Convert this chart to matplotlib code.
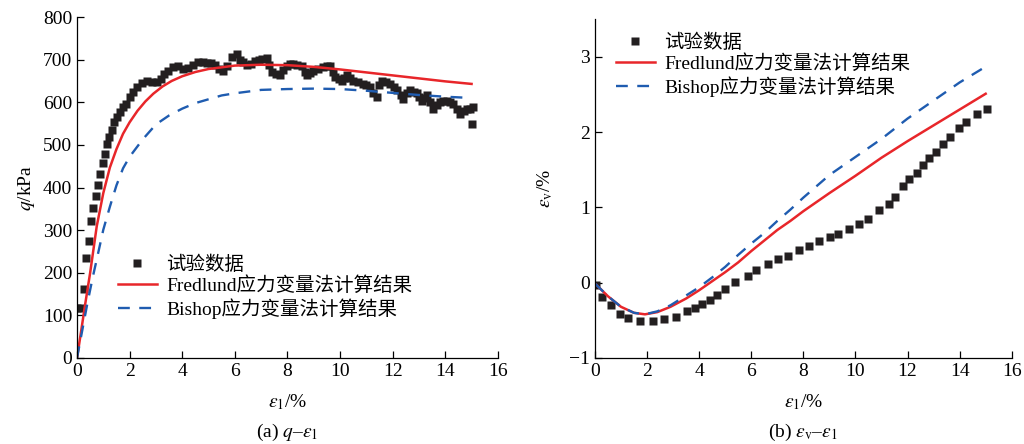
import matplotlib
matplotlib.use('Agg')
import matplotlib.pyplot as plt

plt.rcParams['font.family'] = ['Liberation Serif', 'Noto Sans CJK SC']
plt.rcParams['mathtext.fontset'] = 'stix'
plt.rcParams['font.size'] = 14

# (a) deviator stress q vs axial strain
test_a_strain = [0.01, 0.12, 0.27, 0.35, 0.44, 0.53, 0.62, 0.71, 0.80, 0.89, 0.98, 1.06,
                 1.15, 1.23, 1.32, 1.42, 1.52, 1.63, 1.74, 1.86, 2.01, 2.14, 2.27, 2.46,
                 2.65, 2.84, 3.03, 3.18, 3.31, 3.47, 3.66, 3.85, 4.04, 4.23, 4.42, 4.61,
                 4.80, 4.95, 5.10, 5.25, 5.40, 5.56, 5.69, 5.88, 6.07, 6.20, 6.30, 6.45,
                 6.60, 6.75, 6.90, 7.05, 7.21, 7.30, 7.40, 7.55, 7.72, 7.85, 7.97, 8.10,
                 8.22, 8.38, 8.54, 8.65, 8.73, 8.85, 8.98, 9.15, 9.36, 9.50, 9.62, 9.72,
                 9.81, 9.95, 10.06, 10.15, 10.25, 10.38, 10.50, 10.70, 10.88, 11.00, 11.14,
                 11.25, 11.39, 11.48, 11.58, 11.75, 11.90, 12.05, 12.15, 12.30, 12.40,
                 12.55, 12.66, 12.80, 12.91, 13.00, 13.10, 13.20, 13.29, 13.42, 13.54,
                 13.68, 13.80, 13.93, 14.05, 14.18, 14.30, 14.43, 14.56, 14.70, 14.81,
                 14.95, 15.06, 15.00]
test_a_q = [118, 118, 163, 235, 275, 322, 351, 379, 407, 431, 458, 479,
            502, 519, 534, 554, 565, 577, 589, 597, 612, 624, 635, 645,
            649, 647, 647, 655, 667, 674, 682, 684, 678, 681, 688, 694,
            695, 693, 692, 688, 678, 674, 686, 705, 713, 700, 694, 688,
            690, 697, 700, 702, 704, 688, 670, 666, 663, 675, 686, 690,
            690, 688, 686, 672, 663, 668, 674, 678, 682, 684, 686, 672,
            660, 655, 651, 657, 663, 657, 651, 647, 643, 640, 635,
            622, 612, 640, 651, 647, 643, 636, 629, 618, 608,
            622, 628, 625, 621, 612, 604, 610, 616, 600, 585,
            594, 600, 603, 604, 600, 595, 584, 573, 580, 585,
            585, 588, 548]

fred_a_strain = [0, 0.15, 0.3, 0.5, 0.75, 1.0, 1.25, 1.5, 1.75, 2.0, 2.3, 2.6, 2.9, 3.25,
                 3.6, 4.0, 4.5, 5.0, 5.5, 6.0, 7.0, 8.0, 9.0, 10.0, 11.0, 12.0, 13.0,
                 14.0, 15.0]
fred_a_q = [0, 60, 122, 200, 309, 387, 447, 490, 526, 553, 580, 602, 620, 637,
            650, 661, 671, 678, 682, 686, 688, 687, 683, 677, 670, 663, 656,
            649, 643]

bishop_a_strain = [0, 0.2, 0.4, 0.6, 0.8, 1.0, 1.25, 1.5, 1.75, 2.0, 2.5, 3.0, 3.5, 4.0,
                   4.5, 5.0, 5.5, 6.0, 7.0, 8.0, 9.0, 10.0, 11.0, 12.0, 13.0, 14.0, 15.0]
bishop_a_q = [0, 65, 130, 190, 245, 301, 355, 405, 445, 472, 513, 548, 569, 585,
              598, 607, 616, 621, 629, 631, 632, 631, 627, 622, 617, 613, 610]

# (b) volumetric strain vs axial strain
test_b_strain = [0.04, 0.29, 0.61, 0.95, 1.28, 1.73, 2.23, 2.67, 3.11, 3.54, 3.83, 4.12,
                 4.40, 4.68, 4.99, 5.37, 5.86, 6.20, 6.66, 7.03, 7.42, 7.84, 8.20, 8.60,
                 9.01, 9.33, 9.74, 10.12, 10.50, 10.90, 11.29, 11.52, 11.81, 12.05, 12.36,
                 12.61, 12.83, 13.11, 13.38, 13.65, 13.96, 14.26, 14.65, 15.07]
test_b_ev = [-0.03, -0.19, -0.30, -0.41, -0.47, -0.51, -0.51, -0.48, -0.45, -0.37, -0.33,
             -0.28, -0.23, -0.16, -0.09, 0.01, 0.09, 0.17, 0.25, 0.31, 0.36, 0.43, 0.49,
             0.56, 0.61, 0.65, 0.71, 0.78, 0.85, 0.97, 1.04, 1.14, 1.28, 1.38, 1.46,
             1.56, 1.65, 1.74, 1.84, 1.94, 2.05, 2.14, 2.24, 2.31]

fred_b_strain = [0, 0.5, 1.0, 1.5, 1.92, 2.4, 2.9, 3.5, 4.0, 4.5, 5.0, 5.5, 6.0, 6.5,
                 7.0, 7.5, 8.0, 8.5, 9.0, 10.0, 11.0, 12.0, 13.0, 14.0, 15.0]
fred_b_ev = [-0.01, -0.18, -0.32, -0.40, -0.42, -0.39, -0.32, -0.21, -0.10, 0.02, 0.14,
             0.27, 0.42, 0.56, 0.70, 0.82, 0.95, 1.07, 1.19, 1.42, 1.66, 1.88, 2.09,
             2.30, 2.51]

bishop_b_strain = [0, 0.5, 1.0, 1.5, 1.92, 2.4, 2.9, 3.5, 4.0, 4.5, 5.0, 5.5, 6.0, 6.5,
                   7.0, 7.5, 8.0, 9.0, 10.0, 11.0, 12.0, 13.0, 14.0, 15.0]
bishop_b_ev = [-0.01, -0.18, -0.32, -0.40, -0.42, -0.38, -0.30, -0.17, -0.06, 0.07, 0.21,
               0.37, 0.52, 0.66, 0.82, 0.97, 1.13, 1.43, 1.67, 1.91, 2.18, 2.42, 2.66,
               2.87]

labels = ['试验数据', 'Fredlund应力变量法计算结果', 'Bishop应力变量法计算结果']
pt_color = '#231f20'
red = '#e8262a'
blue = '#1f5cb0'


def style_axes(ax):
    for side in ['top', 'right']:
        ax.spines[side].set_visible(False)
    for side in ['left', 'bottom']:
        ax.spines[side].set_linewidth(0.9)
    ax.tick_params(direction='in', length=5, width=0.9, labelsize=14)


def draw(ax, ts, tv, fs, fv, bs, bv):
    ax.plot(ts, tv, 's', color=pt_color, ms=6, mec='none', label=labels[0])
    ax.plot(fs, fv, '-', color=red, lw=1.8, label=labels[1])
    ax.plot(bs, bv, '--', color=blue, lw=1.7, dashes=(5, 4), label=labels[2])


fig = plt.figure(figsize=(10.24, 4.44), dpi=100)

ax1 = fig.add_axes([0.0752, 0.1937, 0.411, 0.768])
draw(ax1, test_a_strain, test_a_q, fred_a_strain, fred_a_q, bishop_a_strain, bishop_a_q)
style_axes(ax1)
ax1.set_xlim(0, 16)
ax1.set_ylim(0, 800)
ax1.set_xticks(range(0, 17, 2))
ax1.set_yticks(range(0, 801, 100))
ax1.set_ylabel(r'$q$/kPa', labelpad=4)
ax1.set_xlabel(r'$\varepsilon_1$/%', labelpad=9)
ax1.legend(loc='center left', bbox_to_anchor=(0.097, 0.208), frameon=False,
           borderpad=0, borderaxespad=0, handlelength=2.0, handletextpad=0.5,
           labelspacing=0.15, numpoints=1, fontsize=14)
ax1.text(0.5, -0.218, r'(a) $q$–$\varepsilon_1$', transform=ax1.transAxes,
         ha='center', va='center', fontsize=14)

ax2 = fig.add_axes([0.581, 0.1937, 0.407, 0.763])
draw(ax2, test_b_strain, test_b_ev, fred_b_strain, fred_b_ev, bishop_b_strain, bishop_b_ev)
style_axes(ax2)
ax2.set_xlim(0, 16)
ax2.set_ylim(-1, 3.5)
ax2.set_xticks(range(0, 17, 2))
ax2.set_yticks([-1, 0, 1, 2, 3])
ax2.set_yticklabels(['−1', '0', '1', '2', '3'])
ax2.set_ylabel(r'$\varepsilon_\mathrm{v}$/%', labelpad=10)
ax2.set_xlabel(r'$\varepsilon_1$/%', labelpad=9)
ax2.legend(loc='center left', bbox_to_anchor=(0.05, 0.865), frameon=False,
           borderpad=0, borderaxespad=0, handlelength=2.0, handletextpad=0.5,
           labelspacing=0.15, numpoints=1, fontsize=14)
ax2.text(0.5, -0.22, r'(b) $\varepsilon_\mathrm{v}$–$\varepsilon_1$', transform=ax2.transAxes,
         ha='center', va='center', fontsize=14)

fig.savefig('out.png', dpi=100)
